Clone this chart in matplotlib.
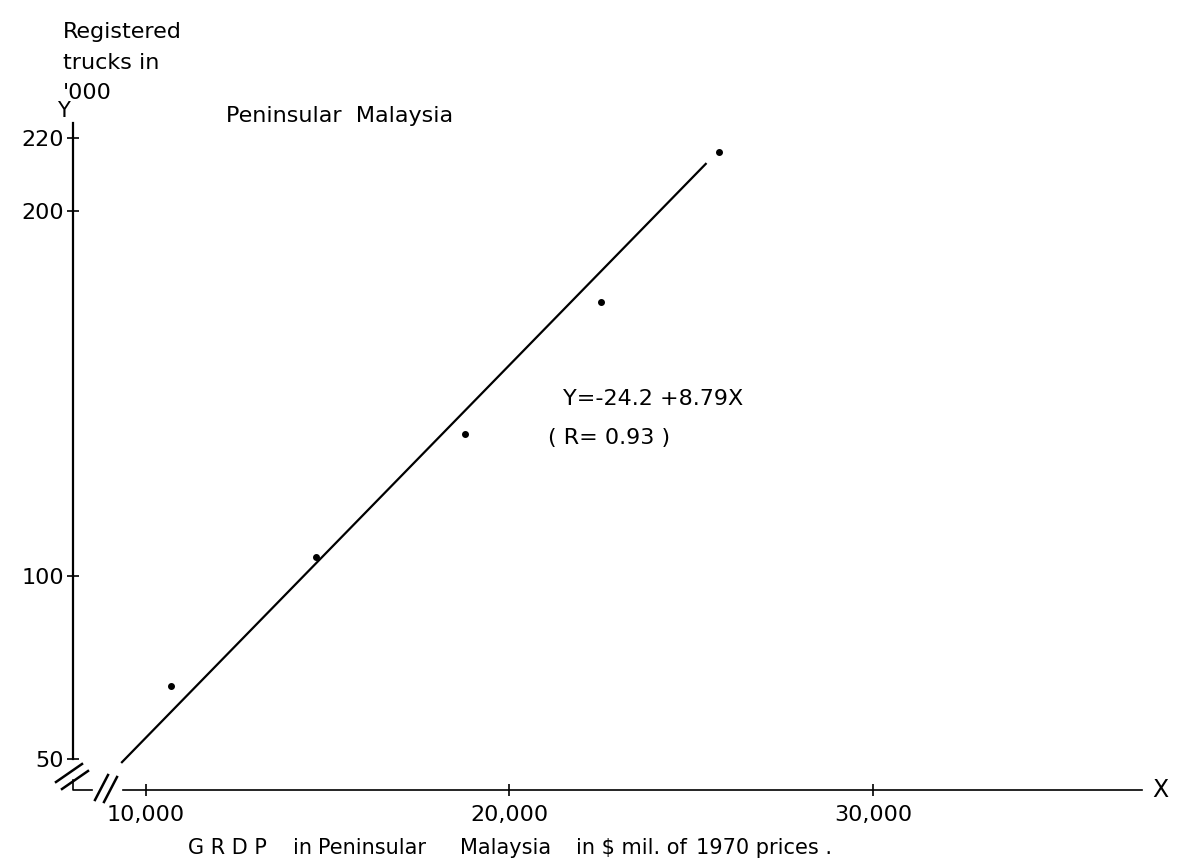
import matplotlib.pyplot as plt
from matplotlib.lines import Line2D

# data
grdp = [10690, 14680, 18780, 22520, 25760]      # $ mil. of 1970 prices
trucks = [70.0, 105.2, 138.9, 175.1, 216.2]     # registered trucks, '000
fit_x = [9340, 25400]
fit_y = [49.0, 212.9]
xticks = [10000, 20000, 30000]
xticklabels = ['10,000', '20,000', '30,000']
yticks = [50, 100, 200, 220]

W, H = 1197, 867
fig = plt.figure(figsize=(W / 100, H / 100), dpi=100)
ax = fig.add_axes([0.0612, 0.0889, 0.8928, 0.7688])
ax.set_xlim(8000, 37400)
ax.set_ylim(41.4, 224)

ax.plot(fit_x, fit_y, color='black', lw=1.6)
ax.plot(grdp, trucks, 'o', color='black', ms=4)

for s in ['top', 'right']:
    ax.spines[s].set_visible(False)
ax.spines['left'].set_bounds(50, 224)
ax.spines['bottom'].set_bounds(9370, 37400)
ax.spines['left'].set_linewidth(1.6)
ax.spines['bottom'].set_linewidth(1.2)

ax.set_xticks(xticks)
ax.set_xticklabels(xticklabels)
ax.set_yticks(yticks)
ax.tick_params(direction='inout', length=9, width=1.2, labelsize=16, pad=2)
ax.tick_params(axis='x', pad=6)


def fig_line(pts, lw=1.8):
    xs = [p[0] / W for p in pts]
    ys = [1 - p[1] / H for p in pts]
    fig.add_artist(Line2D(xs, ys, color='black', lw=lw))


def fig_text(x, y, s, **kw):
    kw.setdefault('fontsize', 15)
    kw.setdefault('va', 'center')
    fig.text(x / W, 1 - y / H, s, **kw)


# small corner piece and break marks
fig_line([(73, 780), (73, 790), (92, 790)], lw=1.2)
fig_line([(56, 782), (82, 764)])
fig_line([(62, 789), (88, 771)])
fig_line([(95, 800), (108, 775)])
fig_line([(104, 802), (117, 777)])

fig_text(63, 38, 'Registered', va='baseline', fontsize=16)
fig_text(63, 69, 'trucks in', va='baseline', fontsize=16)
fig_text(63, 99, "'000", va='baseline', fontsize=16)
fig_text(63, 111, 'Y', ha='center')
fig_text(226, 116, 'Peninsular  Malaysia', fontsize=16)
fig_text(563, 399, 'Y=-24.2 +8.79X', fontsize=16)
fig_text(548, 438, '( R= 0.93 )', fontsize=16)
fig_text(1160, 790, 'X', fontsize=17, ha='center')

# x axis title, word by word as spaced on the original
fig_text(188, 848, 'G R D P')
fig_text(293, 848, 'in')
fig_text(318, 848, 'Peninsular')
fig_text(460, 848, 'Malaysia')
fig_text(576, 848, 'in $ mil. of')
fig_text(696, 848, '1970 prices .')

fig.savefig('out.png', dpi=100)
